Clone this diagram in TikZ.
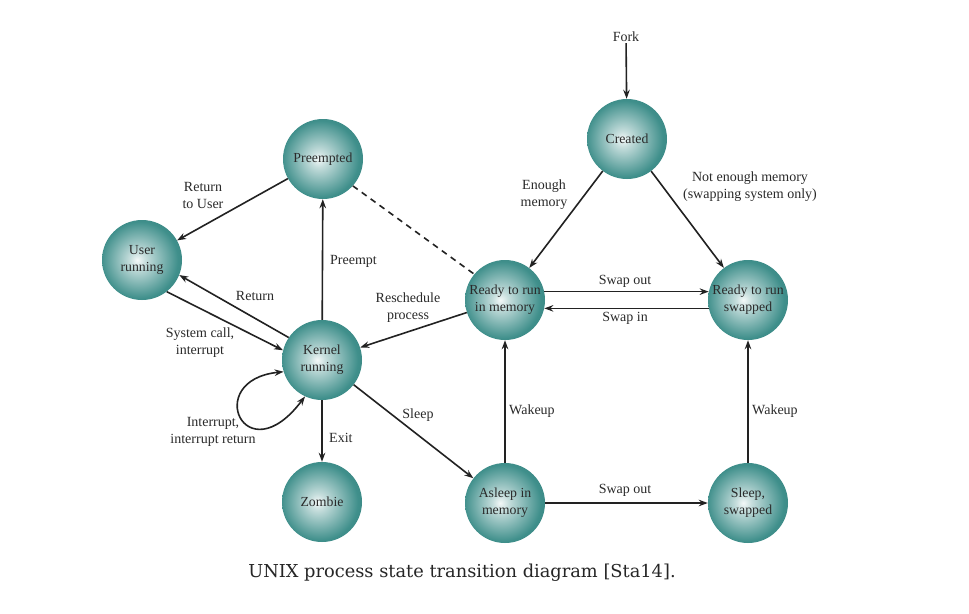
\documentclass[tikz,border=0pt]{standalone}
\usepackage{fontspec}
\setmainfont{Liberation Serif}
\newfontfamily\capfont{DejaVu Serif}
\usepackage{xcolor}
\definecolor{cTeal}{HTML}{3F8F8B}
\definecolor{cLine}{HTML}{222222}
\definecolor{cText}{HTML}{2A2A2A}
\usepackage{tikz}
\usetikzlibrary{arrows.meta,calc}
% sphere look of the states: highlight a bit left of the centre
\pgfdeclareradialshading{ball-teal}{\pgfpoint{-3bp}{0bp}}{%
  color(0bp)=(cTeal!6!white); color(5bp)=(cTeal!30!white);
  color(24bp)=(cTeal); color(50bp)=(cTeal!72!black)}
\tikzset{
  node-state/.style={circle,minimum size=80pt,inner sep=0pt,shade,
    shading=ball-teal,align=center,text=cText,
    font=\fontsize{13.8}{17}\selectfont},
  node-label/.style={align=center,text=cText,inner sep=1pt,
    font=\fontsize{14}{17}\selectfont},
  arrow/.style={-{Stealth[length=9pt,width=6.5pt]},line width=1.6pt,draw=cLine},
  arrow-both/.style={{Stealth[length=9pt,width=6.5pt]}-{Stealth[length=9pt,width=6.5pt]},
    line width=1.6pt,draw=cLine},
  link-dashed/.style={line width=1.6pt,draw=cLine,dash pattern=on 6pt off 5pt},
}
\begin{document}
\begin{tikzpicture}[x=1pt,y=-1pt]
  \fill[white] (0,0) rectangle (969,613);
  \useasboundingbox (0,0) rectangle (969,613);

  % states
  \node[node-state] (created)  at (627,139) {Created};
  \node[node-state] (preempt)  at (323,159) {Preempted};
  \node[node-state] (user)     at (142,260) {User\\running};
  \node[node-state] (kernel)   at (322,360) {Kernel\\running};
  \node[node-state] (zombie)   at (322,502) {Zombie};
  \node[node-state] (rmem)     at (505,300) {Ready to run\\in memory};
  \node[node-state] (rswap)    at (748,300) {Ready to run\\swapped};
  \node[node-state] (amem)     at (505,503) {Asleep in\\memory};
  \node[node-state] (sswap)    at (748,503) {Sleep,\\swapped};
  \node[node-label] (fork)     at (626,37)  {Fork};

  % transitions
  \draw[arrow] (fork) -- (created);
  \draw[arrow] (created) -- (rmem);
  \draw[arrow] (created) -- (rswap);
  \draw[arrow] (rmem.12) -- (rswap.168);
  \draw[arrow] (rswap.192) -- (rmem.-12);
  \draw[arrow] (rmem) -- (kernel);
  \draw[link-dashed] (preempt.-42) -- (rmem.140);
  \draw[arrow] (kernel) -- (preempt);
  \draw[arrow] (preempt) -- (user);
  \draw[arrow] (kernel.146) -- (user.-22);
  \draw[arrow] (user.-52) -- (kernel.166);
  \draw[arrow-both] (kernel.197) .. controls (202,380) and (245,476) .. (kernel.245);
  \draw[arrow] (kernel) -- (zombie);
  \draw[arrow] (kernel) -- (amem);
  \draw[arrow] (amem) -- (rmem);
  \draw[arrow] (amem) -- (sswap);
  \draw[arrow] (sswap) -- (rswap);

  % labels
  \node[node-label] (l-ret-user) at (203,195) {Return\\to User};
  \node[node-label,anchor=west] (l-preempt) at (329,261) {Preempt};
  \node[node-label] (l-return)   at (255,296) {Return};
  \node[node-label] (l-syscall)  at (200,343) {System call,\\interrupt};
  \node[node-label] (l-resched)  at (408,308) {Reschedule\\process};
  \node[node-label] (l-enough)   at (544,195) {Enough\\memory};
  \node[node-label] (l-notenough) at (750,187) {Not enough memory\\(swapping system only)};
  \node[node-label] (l-swapout)  at (625,281) {Swap out};
  \node[node-label] (l-swapin)   at (625,318) {Swap in};
  \node[node-label] (l-intr)     at (213,432) {Interrupt,\\interrupt return};
  \node[node-label,anchor=west] (l-exit) at (328,438) {Exit};
  \node[node-label] (l-sleep)    at (418,415) {Sleep};
  \node[node-label,anchor=west] (l-wake1) at (508,411) {Wakeup};
  \node[node-label,anchor=west] (l-wake2) at (751,411) {Wakeup};
  \node[node-label] (l-swapout2) at (625,490) {Swap out};

  % caption
  \node[text=black!85,font=\capfont\fontsize{17.8}{20}\selectfont] (caption)
    at (462,573) {UNIX process state transition diagram [Sta14].};
\end{tikzpicture}
\end{document}
